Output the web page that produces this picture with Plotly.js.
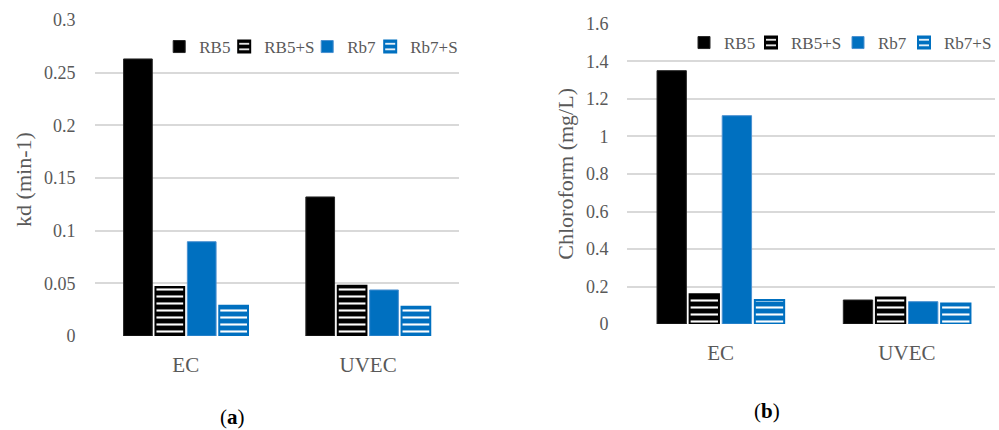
<!DOCTYPE html>
<html><head><meta charset="utf-8">
<script src="https://cdn.plot.ly/plotly-3.0.1.min.js"></script>
<style>html,body{margin:0;padding:0;background:#fff}#chart{width:999px;height:430px}</style>
</head><body><div id="chart"></div>
<script>
const categories = ['EC', 'UVEC'];
const seriesNames = ['RB5', 'RB5+S', 'Rb7', 'Rb7+S'];
// panel (a): kd (min-1)
const kdRB5 = [0.263, 0.132];
const kdRB5S = [0.0465, 0.0478];
const kdRb7 = [0.0895, 0.0437];
const kdRb7S = [0.0288, 0.0278];
// panel (b): Chloroform (mg/L)
const chlRB5 = [1.351, 0.128];
const chlRB5S = [0.158, 0.142];
const chlRb7 = [1.111, 0.119];
const chlRb7S = [0.128, 0.110];
const yTickValsA = [0, 0.05, 0.1, 0.15, 0.2, 0.25, 0.3];
const yTickTextA = ['0', '0.05', '0.1', '0.15', '0.2', '0.25', '0.3'];
const yTickValsB = [0, 0.2, 0.4, 0.6, 0.8, 1, 1.2, 1.4, 1.6];
const yTickTextB = ['0', '0.2', '0.4', '0.6', '0.8', '1', '1.2', '1.4', '1.6'];

const FONT = 'Liberation Serif, Times New Roman, serif';
const GRAY = '#595959';
const BLUE = '#0070C0';

const styles = [
  {color: '#000000', line: {color: '#262626', width: 1}},
  {color: '#000000', line: {color: '#000000', width: 2},
   pattern: {shape: '-', fgcolor: '#ffffff', bgcolor: '#000000', size: 7, solidity: 0.3, fillmode: 'replace'}},
  {color: BLUE, line: {color: '#4a90d0', width: 1}},
  {color: BLUE, line: {color: BLUE, width: 2},
   pattern: {shape: '-', fgcolor: '#ffffff', bgcolor: BLUE, size: 7, solidity: 0.3, fillmode: 'replace'}}
];
const widthsA = [20, 38, 18, 50];
const widthsB = [22, 42, 21, 50];

const dataA = [kdRB5, kdRB5S, kdRb7, kdRb7S];
const dataB = [chlRB5, chlRB5S, chlRb7, chlRb7S];
const traces = [];
dataA.forEach((vals, i) => traces.push({
  type: 'bar', x: categories, y: vals, name: seriesNames[i], xaxis: 'x', yaxis: 'y',
  marker: styles[i], legend: 'legend', legendwidth: widthsA[i], hoverinfo: 'y'
}));
dataB.forEach((vals, i) => traces.push({
  type: 'bar', x: categories, y: vals, name: seriesNames[i], xaxis: 'x2', yaxis: 'y2',
  marker: styles[i], legend: 'legend2', legendwidth: widthsB[i], hoverinfo: 'y'
}));

const xCommon = {
  type: 'category', showgrid: false, zeroline: false, showline: false, ticks: '',
  tickfont: {family: FONT, size: 21, color: GRAY}, ticklabelstandoff: 14, fixedrange: true
};
const yCommon = {
  showgrid: true, gridcolor: '#d9d9d9', gridwidth: 1.6, zeroline: false, showline: false, ticks: '',
  tickmode: 'array', tickfont: {family: FONT, size: 18, color: GRAY}, ticklabelstandoff: 18, fixedrange: true
};
const legCommon = {
  orientation: 'h', xanchor: 'left', yanchor: 'middle', bgcolor: 'rgba(0,0,0,0)',
  font: {family: FONT, size: 17, color: GRAY}, itemclick: false, itemdoubleclick: false
};

const layout = {
  width: 999, height: 430, margin: {l: 0, r: 0, t: 0, b: 0},
  paper_bgcolor: '#ffffff', plot_bgcolor: '#ffffff',
  barmode: 'group', bargap: 0.3, bargroupgap: 0.1,
  showlegend: true,
  xaxis: Object.assign({}, xCommon, {domain: [0.0951, 0.4615], anchor: 'y', range: [-0.5, 1.5]}),
  yaxis: Object.assign({}, yCommon, {domain: [0.2186, 0.9535], anchor: 'x', range: [0, 0.3],
    tickvals: yTickValsA, ticktext: yTickTextA}),
  xaxis2: Object.assign({}, xCommon, {domain: [0.6306, 1], anchor: 'y2', range: [-0.5, 1.473]}),
  yaxis2: Object.assign({}, yCommon, {domain: [0.2465, 0.9442], anchor: 'x2', range: [0, 1.6],
    tickvals: yTickValsB, ticktext: yTickTextB}),
  legend: Object.assign({}, legCommon, {x: 0.160, y: 0.8907}),
  legend2: Object.assign({}, legCommon, {x: 0.6877, y: 0.900}),
  annotations: [
    {text: 'kd (min-1)', xref: 'paper', yref: 'paper', x: 23 / 999, y: 1 - 179 / 430,
     xanchor: 'center', yanchor: 'middle',
     textangle: -90, showarrow: false, font: {family: FONT, size: 22, color: GRAY}},
    {text: 'Chloroform (mg/L)', xref: 'paper', yref: 'paper', x: 567 / 999, y: 1 - 174 / 430,
     xanchor: 'center', yanchor: 'middle',
     textangle: -90, showarrow: false, font: {family: FONT, size: 22, color: GRAY}},
    {text: '(<b>a</b>)', xref: 'paper', yref: 'paper', x: 233 / 999, y: 1 - 417 / 430,
     xanchor: 'center', yanchor: 'middle',
     showarrow: false, font: {family: FONT, size: 21, color: '#000000'}},
    {text: '(<b>b</b>)', xref: 'paper', yref: 'paper', x: 770 / 999, y: 1 - 411 / 430,
     xanchor: 'center', yanchor: 'middle',
     showarrow: false, font: {family: FONT, size: 21, color: '#000000'}}
  ]
};

Plotly.newPlot('chart', traces, layout, {displayModeBar: false});
</script>
</body></html>
